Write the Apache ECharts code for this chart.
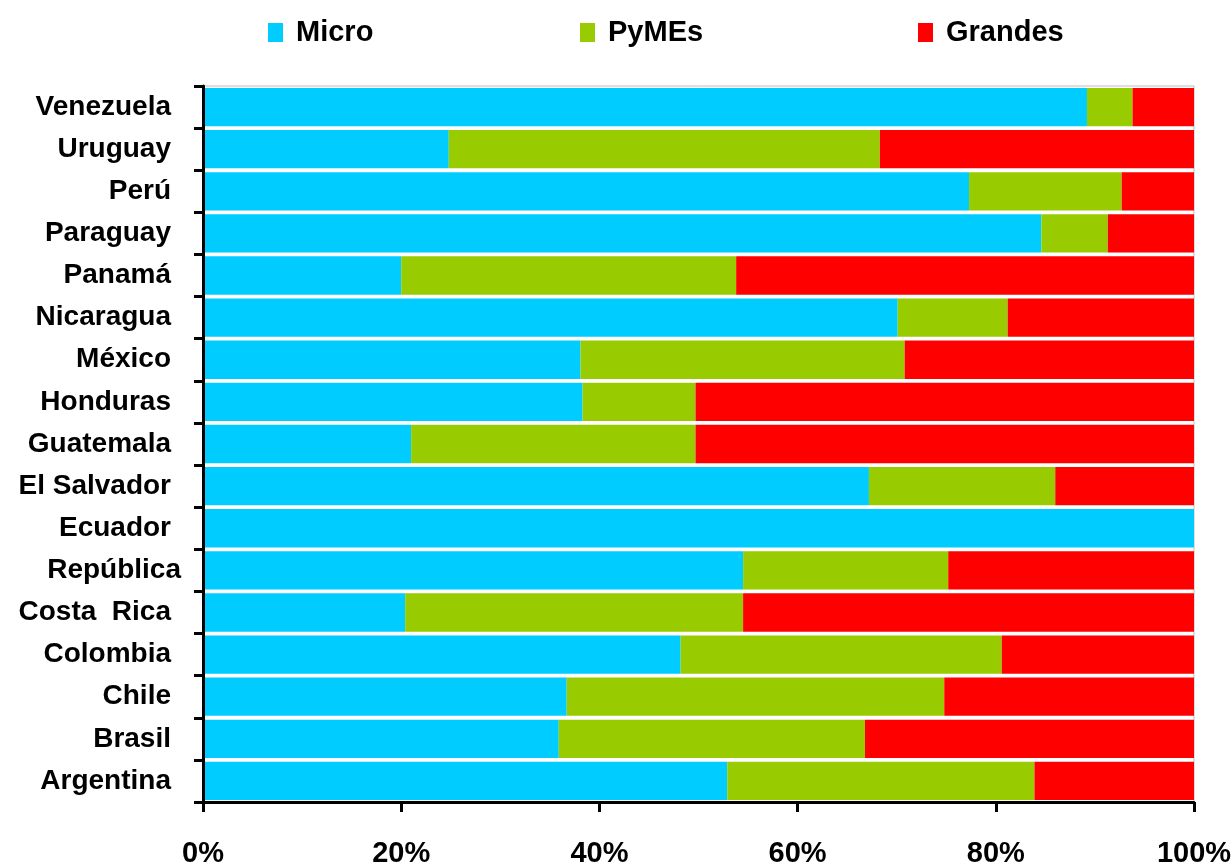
<!DOCTYPE html>
<html lang="es">
<head>
  <meta charset="UTF-8" />
  <title>Micro, PyMEs y Grandes</title>
  <script src="https://cdn.jsdelivr.net/npm/echarts@6/dist/echarts.min.js"></script>
  <style>
    html, body { margin: 0; padding: 0; background: #fff; }
    #chart { width: 1232px; height: 865px; }
  </style>
</head>
<body>
  <div id="chart"></div>
  <script>
    // categorias de abajo hacia arriba
    const paises = ['Argentina', 'Brasil', 'Chile', 'Colombia', 'Costa  Rica', 'República',
      'Ecuador', 'El Salvador', 'Guatemala', 'Honduras', 'México', 'Nicaragua',
      'Panamá', 'Paraguay', 'Perú', 'Uruguay', 'Venezuela'];
    const micro = [52.9, 35.9, 36.7, 48.2, 20.4, 54.5, 100, 67.2, 21.0, 38.3, 38.1, 70.1, 20.0, 84.6, 77.3, 24.8, 89.2];
    const pymes = [31.0, 30.9, 38.1, 32.4, 34.1, 20.7, 0, 18.8, 28.7, 11.4, 32.7, 11.1, 33.8, 6.7, 15.4, 43.5, 4.6];
    const grandes = [16.1, 33.2, 25.2, 19.4, 45.5, 24.8, 0, 14.0, 50.3, 50.3, 29.2, 18.8, 46.2, 8.7, 7.3, 31.7, 6.2];
    const ticksX = [0, 20, 40, 60, 80, 100];

    const fuente = "'Liberation Sans', Arial, sans-serif";
    const chart = echarts.init(document.getElementById('chart'));

    function serie(nombre, datos, color) {
      return {
        name: nombre,
        type: 'bar',
        stack: 'total',
        barCategoryGap: '9%',
        data: datos,
        itemStyle: { color: color },
        emphasis: { disabled: true }
      };
    }

    // una leyenda por serie para fijar la posicion de cada una
    function leyenda(nombre, x) {
      return {
        top: 13,
        left: x,
        itemWidth: 15,
        itemHeight: 19,
        icon: 'rect',
        textStyle: { fontFamily: fuente, fontWeight: 'bold', fontSize: 29, color: '#000', padding: [0, 0, 0, 8] },
        data: [nombre]
      };
    }

    chart.setOption({
      animation: false,
      legend: [
        leyenda('Micro', 263),
        leyenda('PyMEs', 575),
        leyenda('Grandes', 913)
      ],
      grid: {
        left: 203, right: 38, top: 86, bottom: 63,
        outerBoundsMode: 'none',
        containLabel: false,
        show: true, borderColor: '#bdbdbd', borderWidth: 1
      },
      xAxis: {
        type: 'value',
        min: 0, max: 100, interval: 20,
        z: 5,
        axisLine: { show: true, lineStyle: { color: '#000', width: 3 } },
        axisTick: { show: true, length: 10, lineStyle: { color: '#000', width: 3 } },
        splitLine: { show: false },
        axisLabel: {
          margin: 37,
          fontFamily: fuente, fontWeight: 'bold', fontSize: 29, color: '#000',
          formatter: v => ticksX.includes(v) ? v + '%' : ''
        }
      },
      yAxis: {
        type: 'category',
        data: paises,
        z: 5,
        axisLine: { show: true, lineStyle: { color: '#000', width: 3 } },
        axisTick: { show: true, interval: 0, length: 9, lineStyle: { color: '#000', width: 3 } },
        axisLabel: {
          interval: 0,
          margin: 22,
          formatter: v => v === 'República' ? '{n|' + v + '}' : '{p|' + v + '}',
          rich: {
            n: { fontFamily: fuente, fontWeight: 'bold', fontSize: 28, color: '#000' },
            p: { fontFamily: fuente, fontWeight: 'bold', fontSize: 28, color: '#000', padding: [0, 10, 0, 0] }
          }
        }
      },
      series: [
        serie('Micro', micro, '#00ccff'),
        serie('PyMEs', pymes, '#99cc00'),
        serie('Grandes', grandes, '#ff0000')
      ]
    });
  </script>
</body>
</html>
